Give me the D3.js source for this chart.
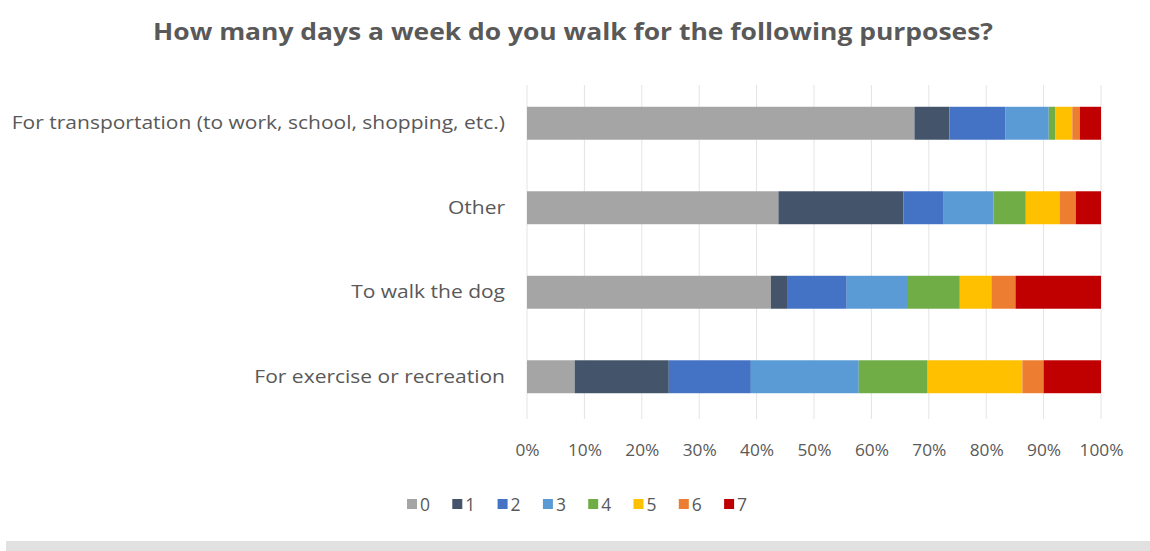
<!DOCTYPE html>
<html>
<head>
<meta charset="utf-8">
<script src="https://cdn.jsdelivr.net/npm/d3@7"></script>
<style>
  html, body { margin: 0; padding: 0; background: #fff; }
  svg { display: block; }
  text { font-family: "Open Sans", "Liberation Sans", sans-serif; }
</style>
</head>
<body>
<svg id="chart" width="1150" height="551"></svg>
<script>
// Purposes, top to bottom
const purposes = [
  "For transportation (to work, school, shopping, etc.)",
  "Other",
  "To walk the dog",
  "For exercise or recreation"
];
// Days per week answer categories
const days = ["0", "1", "2", "3", "4", "5", "6", "7"];
// Share of respondents (%) for each purpose, by number of days
const day0 = [67.5, 43.8, 42.5, 8.3];
const day1 = [6.1, 21.8, 2.8, 16.4];
const day2 = [9.7, 7.0, 10.4, 14.3];
const day3 = [7.6, 8.7, 10.5, 18.8];
const day4 = [1.1, 5.6, 9.2, 12.0];
const day5 = [3.0, 5.9, 5.5, 16.5];
const day6 = [1.3, 2.8, 4.2, 3.7];
const day7 = [3.7, 4.4, 14.9, 10.0];
const tickValues = [0, 0.1, 0.2, 0.3, 0.4, 0.5, 0.6, 0.7, 0.8, 0.9, 1.0];
const colors = ["#a5a5a5", "#44546a", "#4472c4", "#5b9bd5", "#70ad47", "#ffc000", "#ed7d31", "#c00000"];

const series = [day0, day1, day2, day3, day4, day5, day6, day7];
const rows = purposes.map((p, i) => {
  const r = { purpose: p };
  days.forEach((d, j) => { r[d] = series[j][i]; });
  return r;
});

const svg = d3.select("#chart");
const margin = { left: 527, right: 49, top: 81, bottom: 132 };
const W = 1150, H = 551;

const x = d3.scaleLinear().domain([0, 1]).range([margin.left, W - margin.right]);
const y = d3.scaleBand().domain(purposes).range([margin.top, H - margin.bottom]).paddingInner(0.61).paddingOuter(0.305);

// Title (slightly widened type)
svg.append("g").attr("transform", "translate(573, 40) scale(1.15, 1)")
  .append("text")
  .attr("text-anchor", "middle")
  .attr("font-size", 23).attr("font-weight", "bold")
  .attr("fill", "#595959")
  .text("How many days a week do you walk for the following purposes?");

// Vertical gridlines
svg.append("g").selectAll("line")
  .data(tickValues).join("line")
  .attr("x1", d => x(d)).attr("x2", d => x(d))
  .attr("y1", margin.top + 4).attr("y2", H - margin.bottom)
  .attr("stroke", "#e4e4e4").attr("stroke-width", 1);

// Stacked bars, normalised to 100%
const stack = d3.stack().keys(days).offset(d3.stackOffsetExpand);
const layers = stack(rows);
svg.append("g").selectAll("g")
  .data(layers).join("g")
  .attr("fill", (d, i) => colors[i])
  .selectAll("rect")
  .data(d => d).join("rect")
  .attr("x", d => x(d[0]))
  .attr("width", d => x(d[1]) - x(d[0]))
  .attr("y", d => y(d.data.purpose))
  .attr("height", y.bandwidth());

// X axis labels
const xAxis = d3.axisBottom(x).tickValues(tickValues).tickFormat(d3.format(".0%")).tickSize(0).tickPadding(0);
const gx = svg.append("g").attr("transform", `translate(0, ${H - margin.bottom + 26})`).call(xAxis);
gx.select(".domain").remove();
gx.selectAll("text").attr("font-size", 16).attr("fill", "#595959")
  .attr("transform", "scale(1.08, 1)")
  .style("font-family", "'Open Sans', sans-serif");

// Category labels
const labelScale = 1.167;
const yAxis = d3.axisLeft(y).tickSize(0).tickPadding(22);
const gy = svg.append("g").attr("transform", `translate(${margin.left}, 0)`).call(yAxis);
gy.select(".domain").remove();
gy.selectAll("text").attr("font-size", 18).attr("fill", "#595959")
  .attr("x", -22 / labelScale)
  .attr("transform", `scale(${labelScale}, 1)`)
  .style("font-family", "'Open Sans', sans-serif");

// Legend
const legend = svg.append("g").attr("transform", "translate(407, 0)");
const item = legend.selectAll("g").data(days).join("g")
  .attr("transform", (d, i) => `translate(${i * 45.3}, 0)`);
item.append("rect").attr("x", 0).attr("y", 499).attr("width", 10).attr("height", 10)
  .attr("fill", (d, i) => colors[i]);
item.append("text").attr("x", 13).attr("y", 511)
  .attr("font-size", 17.5).attr("fill", "#595959").text(d => d);

// Footer band
svg.append("rect").attr("x", 6).attr("y", 541).attr("width", 1144).attr("height", 10).attr("fill", "#e1e1e1");
</script>
</body>
</html>
